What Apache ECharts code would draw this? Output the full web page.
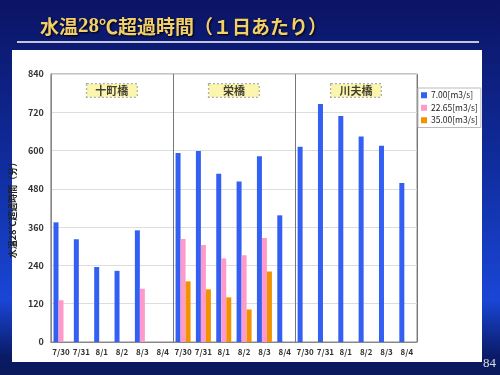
<!DOCTYPE html>
<html><head><meta charset="utf-8">
<script src="https://cdn.jsdelivr.net/npm/echarts@6/dist/echarts.min.js"></script>
<style>html,body{margin:0;padding:0;background:#0b1464}#c{width:500px;height:375px}</style>
</head><body><div id="c"></div>
<script>
const categories = ['7/30','7/31','8/1','8/2','8/3','8/4','7/30','7/31','8/1','8/2','8/3','8/4','7/30','7/31','8/1','8/2','8/3','8/4'];
const seriesNames = ['7.00[m3/s]','22.65[m3/s]','35.00[m3/s]'];
const flow700 = [375,322,235,223,350,null, 592,599,527,503,582,397, 612,746,708,644,615,498];
const flow2265 = [131,null,null,null,167,null, 323,304,262,272,326,null, null,null,null,null,null,null];
const flow3500 = [null,null,null,null,null,null, 190,165,140,102,221,null, null,null,null,null,null,null];
const groupNames = ['十町橋','栄橋','川夫橋'];
const yTicks = [0,120,240,360,480,600,720,840];

const chart = echarts.init(document.getElementById('c'));
const F = "'Noto Sans CJK JP', sans-serif";
const colors = ['#3360f2','#ff99cc','#f29200'];
chart.setOption({
  animation:false,
  backgroundColor:{type:'linear',x:0,y:0,x2:0,y2:1,colorStops:[
    {offset:0,color:'#0b1464'},{offset:0.4,color:'#0f2a98'},{offset:0.8,color:'#1a46d6'},{offset:0.95,color:'#0a1a66'},{offset:1,color:'#0a1a5c'}]},
  graphic:[
    {type:'rect',shape:{x:12,y:50,width:470,height:312},style:{fill:'#ffffff'},z:-10},
    {type:'line',shape:{x1:17,y1:42,x2:479,y2:42},style:{stroke:'#ffffff',lineWidth:1.5}},
    {type:'text',left:40,top:16,style:{text:'{a|水温}{b|28}{a|℃超過時間（１日あたり）}',rich:{
      a:{fontFamily:F,fontSize:19,fontWeight:'bold',fill:'#f3cf6a'},
      b:{fontFamily:"'Liberation Serif', serif",fontSize:21,fontWeight:'bold',fill:'#f3cf6a'}},
      textShadowColor:'#000',textShadowBlur:2,textShadowOffsetX:1,textShadowOffsetY:1}},
    {type:'text',left:483,top:357,style:{text:'84',fontFamily:"'Liberation Serif', serif",fontSize:13,fill:'#dddddd'}}
  ],
  legend:{data:seriesNames,orient:'vertical',left:418,top:88,itemWidth:6,itemHeight:6,itemGap:4,icon:'rect',
    borderColor:'#bbb',borderWidth:1,padding:[3,3,3,3],
    textStyle:{fontFamily:F,fontSize:8.5,color:'#222',padding:[0,0,0,-1]}},
  grid:{left:50,top:74,width:367,height:268,show:true,borderColor:'#888',borderWidth:1,containLabel:false},
  xAxis:[
    {type:'category',data:categories,boundaryGap:true,axisLine:{show:true,lineStyle:{color:'#888'}},axisTick:{show:false},
     axisLabel:{interval:0,fontFamily:F,fontSize:8,fontWeight:'bold',color:'#333',margin:6},splitLine:{show:false}},
    {type:'value',min:0,max:3,interval:1,position:'bottom',axisLine:{show:false},axisTick:{show:false},axisLabel:{show:false},
     splitLine:{show:true,lineStyle:{color:'#777',width:1}}}
  ],
  yAxis:{type:'value',min:yTicks[0],max:yTicks[yTicks.length-1],interval:120,
    name:'水温28℃超過時間（分）',nameLocation:'middle',nameRotate:90,nameGap:30,
    nameTextStyle:{fontFamily:F,fontSize:9,fontWeight:'bold',color:'#222'},
    axisLine:{show:true,lineStyle:{color:'#888'}},axisTick:{show:false},
    axisLabel:{fontFamily:F,fontSize:9,fontWeight:'bold',color:'#333',margin:7},
    splitLine:{show:true,lineStyle:{color:'#dddddd'}}},
  series:[
    {name:seriesNames[0],type:'bar',data:flow700,barWidth:5,barGap:'0%',itemStyle:{color:colors[0]}},
    {name:seriesNames[1],type:'bar',data:flow2265,barWidth:5,barGap:'0%',itemStyle:{color:colors[1]}},
    {name:seriesNames[2],type:'bar',data:flow3500,barWidth:5,barGap:'0%',itemStyle:{color:colors[2]}},
    {type:'scatter',xAxisIndex:1,symbolSize:0,silent:true,z:5,
     data:groupNames.map((n,i)=>({value:[i+0.5,788],name:n})),
     label:{show:true,position:'inside',formatter:p=>p.name,fontFamily:F,fontSize:11,fontWeight:'bold',color:'#111',
       backgroundColor:'#fbf39a',borderColor:'#999',borderWidth:1,borderType:'dotted',width:44,align:'center',padding:[1,3,1,3]}}
  ]
});
</script></body></html>
